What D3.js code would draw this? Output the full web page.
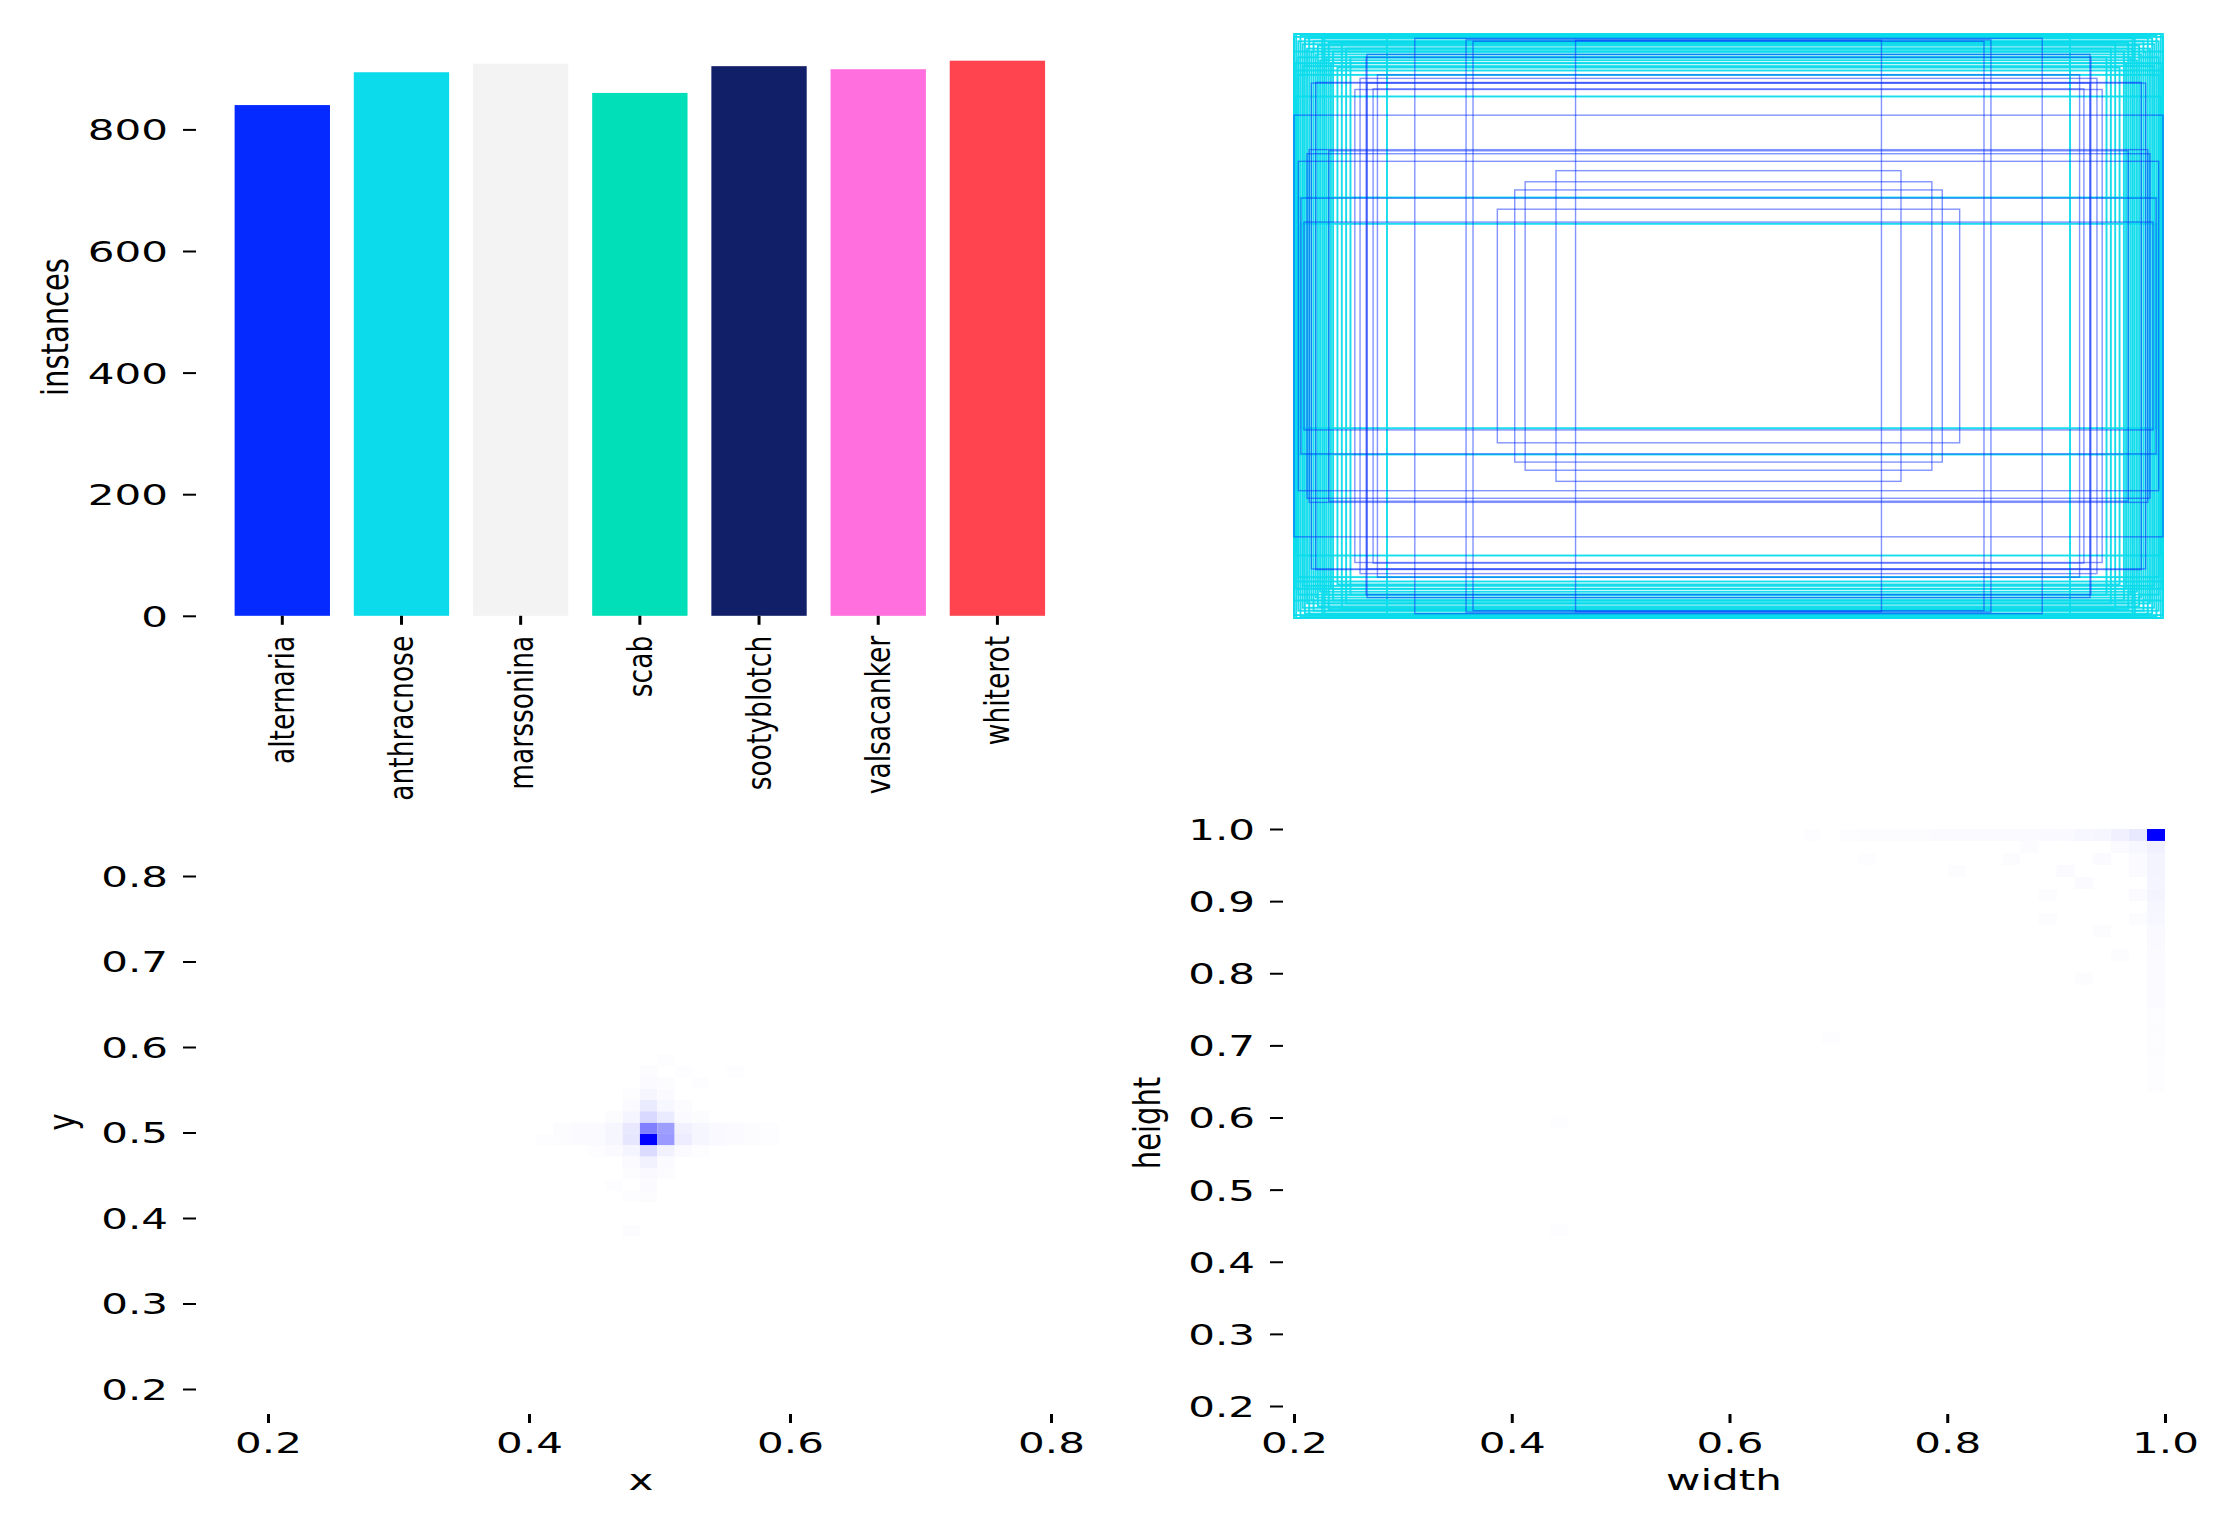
<!DOCTYPE html>
<html>
<head>
<meta charset="utf-8">
<script src="https://cdn.jsdelivr.net/npm/d3@7"></script>
<style>
  body { margin: 0; background: #fff; }
  svg text { font-family: "DejaVu Sans", sans-serif; fill: #000; }
</style>
</head>
<body>
<svg id="chart" width="2229" height="1526"></svg>
<script>

// ---- data ----

var classNames = ["alternaria", "anthracnose", "marssonina", "scab", "sootyblotch", "valsacanker", "whiterot"];
var classCounts = [840, 894, 908, 860, 904, 899, 913];
var classColors = ["#042AFF", "#0BDBEB", "#F3F3F3", "#00DFB7", "#111F68", "#FF6FDD", "#FF444F"];
var countTicks = [0, 200, 400, 600, 800];

// label boxes, normalised width / height, all centred on (0.5, 0.5)
var cyanBoxes = [
  [1.0, 1.0], [1.0, 0.99], [0.995, 1.0], [0.99, 0.975], [0.985, 0.995], [0.98, 0.965],
  [0.975, 0.985], [0.97, 0.95], [0.965, 0.99], [0.96, 0.94], [0.955, 0.975], [0.95, 0.93],
  [0.945, 0.96], [0.94, 0.91], [0.935, 0.985], [0.93, 0.95], [0.925, 0.92], [0.92, 0.97],
  [0.915, 0.90], [0.91, 0.94], [0.90, 0.885], [0.89, 0.97], [0.88, 0.95], [0.87, 0.92],
  [0.99, 0.86], [1.0, 0.875], [0.98, 0.89], [0.99, 0.92], [1.0, 0.94], [0.786, 0.995],
  [0.995, 0.786], [0.985, 0.35], [0.99, 0.44], [0.93, 0.995], [0.998, 0.9]
];
var blueBoxes = [
  [0.397, 0.532], [0.468, 0.494], [0.492, 0.466], [0.532, 0.400], [0.352, 0.978],
  [0.977, 0.356], [0.984, 0.438], [0.99, 0.564], [0.97, 0.59], [0.965, 0.604],
  [0.722, 0.985], [0.604, 0.98], [0.588, 0.975], [1.0, 0.722], [0.832, 0.93],
  [0.834, 0.92], [0.96, 0.832], [0.95, 0.834], [0.832, 0.832], [0.818, 0.812],
  [0.808, 0.86], [0.86, 0.81], [0.848, 0.848], [0.92, 0.60]
];

// x/y histogram: [bin left x, bin bottom y, density 0..1]
var xyBinSize = 0.0133;
var xyTicks = [0.2, 0.3, 0.4, 0.5, 0.6, 0.7, 0.8];
var xyTicksX = [0.2, 0.4, 0.6, 0.8];
var xyCells = [
  [0.4052, 0.4850, 0.008], [0.4185, 0.4850, 0.012], [0.4318, 0.4850, 0.015],
  [0.4451, 0.4850, 0.02], [0.4584, 0.4850, 0.035], [0.4717, 0.4850, 0.10], [0.4850, 0.4850, 1.0],
  [0.4983, 0.4850, 0.40], [0.5116, 0.4850, 0.07], [0.5249, 0.4850, 0.035], [0.5382, 0.4850, 0.025],
  [0.5515, 0.4850, 0.018], [0.5648, 0.4850, 0.012], [0.5781, 0.4850, 0.008],
  [0.4185, 0.4983, 0.012], [0.4318, 0.4983, 0.015], [0.4451, 0.4983, 0.02],
  [0.4584, 0.4983, 0.035], [0.4717, 0.4983, 0.09], [0.4850, 0.4983, 0.50], [0.4983, 0.4983, 0.38],
  [0.5116, 0.4983, 0.06], [0.5249, 0.4983, 0.035], [0.5382, 0.4983, 0.025], [0.5515, 0.4983, 0.018],
  [0.5648, 0.4983, 0.012], [0.5781, 0.4983, 0.008],
  [0.4584, 0.5116, 0.012], [0.4717, 0.5116, 0.04], [0.4850, 0.5116, 0.15], [0.4983, 0.5116, 0.08],
  [0.5116, 0.5116, 0.02], [0.5249, 0.5116, 0.01],
  [0.4717, 0.5249, 0.02], [0.4850, 0.5249, 0.08], [0.4983, 0.5249, 0.03], [0.5116, 0.5249, 0.01],
  [0.4717, 0.5382, 0.01], [0.4850, 0.5382, 0.035], [0.4983, 0.5382, 0.015],
  [0.4850, 0.5515, 0.018], [0.4983, 0.5515, 0.01], [0.5249, 0.5515, 0.008],
  [0.4850, 0.5648, 0.01], [0.5116, 0.5648, 0.008], [0.5515, 0.5648, 0.008],
  [0.4983, 0.5781, 0.008],
  [0.4451, 0.4717, 0.008], [0.4584, 0.4717, 0.015], [0.4717, 0.4717, 0.04], [0.4850, 0.4717, 0.14],
  [0.4983, 0.4717, 0.05], [0.5116, 0.4717, 0.02], [0.5249, 0.4717, 0.008],
  [0.4717, 0.4584, 0.018], [0.4850, 0.4584, 0.05], [0.4983, 0.4584, 0.018],
  [0.4717, 0.4451, 0.01], [0.4850, 0.4451, 0.025], [0.4983, 0.4451, 0.01],
  [0.4850, 0.4318, 0.015], [0.4584, 0.4318, 0.008],
  [0.4850, 0.4185, 0.01], [0.4717, 0.4185, 0.008],
  [0.4717, 0.3786, 0.01]
];

// width/height histogram: [bin left width, bin bottom height, density 0..1]
var whBinSize = 0.0166;
var whTicks = [0.2, 0.3, 0.4, 0.5, 0.6, 0.7, 0.8, 0.9, 1.0];
var whTicksX = [0.2, 0.4, 0.6, 0.8, 1.0];
var whCells = [
  [0.9834, 0.9834, 1.0], [0.9668, 0.9834, 0.09], [0.9502, 0.9834, 0.06], [0.9336, 0.9834, 0.035],
  [0.9170, 0.9834, 0.03], [0.9004, 0.9834, 0.025], [0.8838, 0.9834, 0.025], [0.8672, 0.9834, 0.02],
  [0.8506, 0.9834, 0.02], [0.8340, 0.9834, 0.018], [0.8174, 0.9834, 0.02], [0.8008, 0.9834, 0.015],
  [0.7842, 0.9834, 0.015], [0.7676, 0.9834, 0.012], [0.7510, 0.9834, 0.012], [0.7344, 0.9834, 0.012],
  [0.7178, 0.9834, 0.01], [0.7012, 0.9834, 0.008], [0.6680, 0.9834, 0.006],
  [0.9834, 0.9668, 0.06], [0.9834, 0.9502, 0.045], [0.9834, 0.9336, 0.045], [0.9834, 0.9170, 0.04],
  [0.9834, 0.9004, 0.045], [0.9834, 0.8838, 0.035], [0.9834, 0.8672, 0.03], [0.9834, 0.8506, 0.025],
  [0.9834, 0.8340, 0.025], [0.9834, 0.8174, 0.02], [0.9834, 0.8008, 0.02], [0.9834, 0.7842, 0.02],
  [0.9834, 0.7676, 0.018], [0.9834, 0.7510, 0.015], [0.9834, 0.7344, 0.012], [0.9834, 0.7178, 0.012],
  [0.9834, 0.7012, 0.01], [0.9834, 0.6846, 0.01], [0.9834, 0.6680, 0.008], [0.9834, 0.6514, 0.008],
  [0.9834, 0.6348, 0.006],
  [0.9668, 0.9668, 0.03], [0.9668, 0.9502, 0.02], [0.9668, 0.9336, 0.018], [0.9668, 0.9004, 0.015],
  [0.9668, 0.8672, 0.012],
  [0.9502, 0.9668, 0.02], [0.9336, 0.9502, 0.018], [0.9170, 0.9170, 0.015], [0.9004, 0.9336, 0.015],
  [0.8838, 0.9004, 0.012], [0.8672, 0.9668, 0.012], [0.8506, 0.9502, 0.01], [0.8838, 0.8672, 0.01],
  [0.9336, 0.8506, 0.012], [0.9502, 0.8174, 0.01], [0.9170, 0.7842, 0.01], [0.8008, 0.9336, 0.01],
  [0.7178, 0.9502, 0.008], [0.6846, 0.7012, 0.008], [0.4356, 0.5850, 0.008], [0.4356, 0.4358, 0.008]
];

// ---- drawing ----

var SX = 1.45;      // horizontal stretch of the horizontal labels
var SXR = 1.3;      // horizontal stretch of the rotated labels

var svg = d3.select("#chart");
svg.append("rect").attr("width", 2229).attr("height", 1526).attr("fill", "#fff");

var shade = d3.interpolateRgb("#ffffff", "#0000ff");

function leftAxis(scale, ticks, x0, fmt) {
  var g = svg.append("g")
             .attr("transform", "translate(" + x0 + ",0)")
             .call(d3.axisLeft(scale).tickValues(ticks).tickSize(13).tickFormat(fmt));
  g.select(".domain").remove();
  g.selectAll(".tick line").attr("stroke", "#000").attr("stroke-width", 2);
  g.selectAll(".tick text")
   .attr("x", null).attr("dy", "0.36em")
   .attr("transform", "translate(-28,0) scale(" + SX + ",1)")
   .style("font-size", "29px");
  return g;
}

function bottomAxis(scale, ticks, y0, fmt) {
  var g = svg.append("g")
             .attr("transform", "translate(0," + y0 + ")")
             .call(d3.axisBottom(scale).tickValues(ticks).tickSize(9).tickFormat(fmt));
  g.select(".domain").remove();
  g.selectAll(".tick line").attr("stroke", "#000").attr("stroke-width", 3);
  g.selectAll(".tick text")
   .attr("y", null).attr("dy", null)
   .attr("transform", "translate(0,39) scale(" + SX + ",1)")
   .style("font-size", "29px");
  return g;
}

function hLabel(txt, x, y) {
  svg.append("text")
     .attr("transform", "translate(" + x + "," + y + ") scale(" + SX + ",1)")
     .attr("text-anchor", "middle")
     .style("font-size", "29px")
     .text(txt);
}

function vLabel(txt, x, y) {
  svg.append("text")
     .attr("transform", "translate(" + x + "," + y + ") scale(" + SXR + ",1) rotate(-90)")
     .attr("text-anchor", "middle")
     .style("font-size", "29px")
     .text(txt);
}

// -- top left: instances per class --

var xBar = d3.scaleBand().domain(classNames).range([222.7, 1057]).paddingInner(0.2).paddingOuter(0.1);
var yBar = d3.scaleLinear().domain([0, 800]).range([615.8, 129.4]);

svg.append("g").selectAll("rect")
   .data(classNames)
   .enter().append("rect")
   .attr("x", function(d) { return xBar(d); })
   .attr("width", xBar.bandwidth())
   .attr("y", function(d, i) { return yBar(classCounts[i]); })
   .attr("height", function(d, i) { return yBar(0) - yBar(classCounts[i]); })
   .attr("fill", function(d, i) { return classColors[i]; });

leftAxis(yBar, countTicks, 196, d3.format("d"));

var gx = svg.append("g")
            .attr("transform", "translate(0," + yBar(0) + ")")
            .call(d3.axisBottom(xBar).tickSize(9));
gx.select(".domain").remove();
gx.selectAll(".tick line").attr("stroke", "#000").attr("stroke-width", 3);
gx.selectAll(".tick text")
  .attr("y", null).attr("dy", null)
  .attr("text-anchor", "end")
  .attr("transform", "translate(12,20) scale(" + SXR + ",1) rotate(-90)")
  .style("font-size", "26.5px");

vLabel("instances", 68, 327);

// -- top right: boxes --

var bx = d3.scaleLinear().domain([0, 1]).range([1294, 2163]);
var by = d3.scaleLinear().domain([0, 1]).range([34, 618]);

function drawBoxes(list, color, op, sw) {
  svg.append("g").selectAll("rect")
     .data(list)
     .enter().append("rect")
     .attr("x", function(d) { return bx(0.5 - d[0] / 2); })
     .attr("y", function(d) { return by(0.5 - d[1] / 2); })
     .attr("width", function(d) { return bx(0.5 + d[0] / 2) - bx(0.5 - d[0] / 2); })
     .attr("height", function(d) { return by(0.5 + d[1] / 2) - by(0.5 - d[1] / 2); })
     .attr("fill", "none")
     .attr("stroke", color)
     .attr("stroke-opacity", op)
     .attr("stroke-width", sw);
}
drawBoxes(cyanBoxes, "#0BDBEB", 0.95, 1.9);
drawBoxes(blueBoxes, "#042AFF", 0.5, 1.4);

// -- bottom left: x / y --

var xX = d3.scaleLinear().domain([0.2, 0.8]).range([268, 1051]);
var yY = d3.scaleLinear().domain([0.2, 0.8]).range([1389, 876]);

svg.append("g").selectAll("rect")
   .data(xyCells)
   .enter().append("rect")
   .attr("x", function(d) { return xX(d[0]); })
   .attr("y", function(d) { return yY(d[1] + xyBinSize); })
   .attr("width", xX(xyBinSize) - xX(0))
   .attr("height", yY(0) - yY(xyBinSize))
   .attr("fill", function(d) { return shade(d[2]); });

leftAxis(yY, xyTicks, 196, d3.format(".1f"));
bottomAxis(xX, xyTicksX, 1414, d3.format(".1f"));
hLabel("x", 641, 1490);
vLabel("y", 75, 1122);

// -- bottom right: width / height --

var xW = d3.scaleLinear().domain([0.2, 1.0]).range([1294, 2165]);
var yH = d3.scaleLinear().domain([0.2, 1.0]).range([1406, 829]);

svg.append("g").selectAll("rect")
   .data(whCells)
   .enter().append("rect")
   .attr("x", function(d) { return xW(d[0]); })
   .attr("y", function(d) { return yH(d[1] + whBinSize); })
   .attr("width", xW(whBinSize) - xW(0))
   .attr("height", yH(0) - yH(whBinSize))
   .attr("fill", function(d) { return shade(d[2]); });

leftAxis(yH, whTicks, 1283, d3.format(".1f"));
bottomAxis(xW, whTicksX, 1414, d3.format(".1f"));
hLabel("width", 1724, 1490);
vLabel("height", 1160, 1123);

</script>
</body>
</html>
